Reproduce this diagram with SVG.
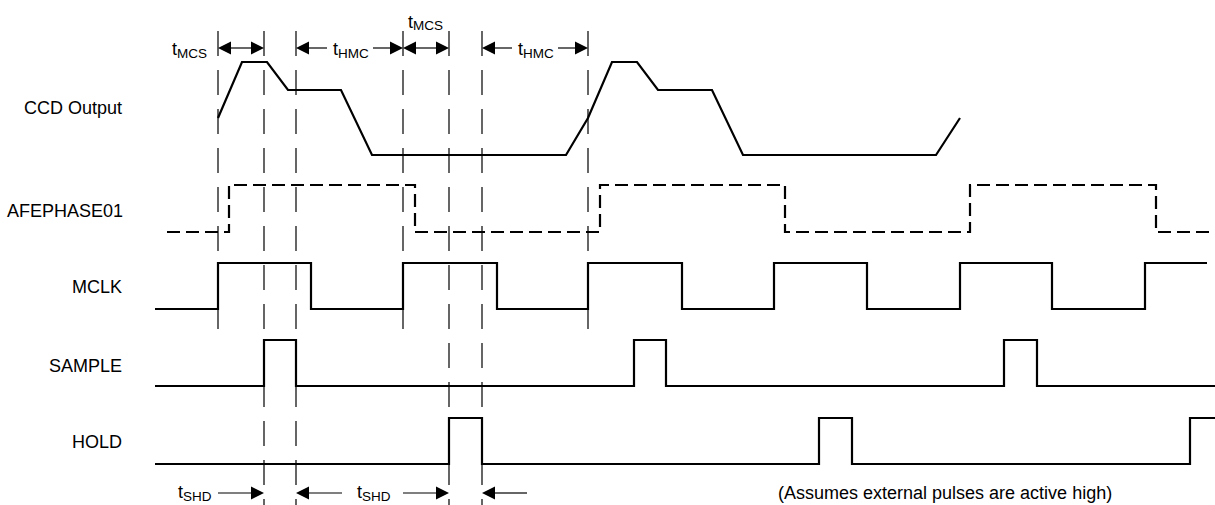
<svg xmlns="http://www.w3.org/2000/svg" width="1215" height="505" viewBox="0 0 1215 505">
<style>
text{font-family:"Liberation Sans",Arial,sans-serif;font-size:18px;fill:#000}
.lbl{text-anchor:end}
.sub{font-size:13.5px}
.sig{fill:none;stroke:#000;stroke-width:2.2;stroke-linejoin:miter}
.dsig{fill:none;stroke:#000;stroke-width:2.2;stroke-dasharray:13,6}
.guide{stroke:#000;stroke-width:1.2;stroke-dasharray:25,14}
.dim{stroke:#000;stroke-width:1.2}
.ah{fill:#000}
</style>
<rect width="1215" height="505" fill="#fff"/>
<g id="guides">
<line class="guide" x1="218" y1="31" x2="218" y2="330"/>
<line class="guide" x1="264" y1="31" x2="264" y2="505"/>
<line class="guide" x1="296" y1="31" x2="296" y2="505"/>
<line class="guide" x1="403" y1="31" x2="403" y2="330"/>
<line class="guide" x1="449" y1="31" x2="449" y2="505"/>
<line class="guide" x1="482" y1="31" x2="482" y2="505"/>
<line class="guide" x1="588" y1="31" x2="588" y2="330"/>
</g>
<g id="ccd-output">
<text class="lbl" x="122" y="114">CCD Output</text>
<path class="sig" d="M218,118 L242,62 L267,62 L288,90 L341,90 L372,155 L566,155 L588,118 L612,62 L637,62 L658,90 L712,90 L743,155 L936,155 L960,118"/>
</g>
<g id="afephase01">
<text class="lbl" x="123" y="217">AFEPHASE01</text>
<path class="dsig" d="M167,232 L229,232 L229,185 L415,185 L415,232 L600,232 L600,185 L785,185 L785,232 L970,232 L970,185 L1156,185 L1156,232 L1215,232"/>
</g>
<g id="mclk">
<text class="lbl" x="122" y="293">MCLK</text>
<path class="sig" d="M155,309 L218,309 L218,263 L311,263 L311,309 L403,309 L403,263 L497,263 L497,309 L588,309 L588,263 L682,263 L682,309 L774,309 L774,263 L867,263 L867,309 L960,309 L960,263 L1052,263 L1052,309 L1145,309 L1145,263 L1207,263"/>
</g>
<g id="sample">
<text class="lbl" x="122" y="372">SAMPLE</text>
<path class="sig" d="M155,386 L264,386 L264,340 L296,340 L296,386 L634,386 L634,340 L666,340 L666,386 L1004,386 L1004,340 L1037,340 L1037,386 L1215,386"/>
</g>
<g id="hold">
<text class="lbl" x="122" y="448">HOLD</text>
<path class="sig" d="M155,464 L449,464 L449,418 L482,418 L482,464 L819,464 L819,418 L852,418 L852,464 L1190,464 L1190,418 L1215,418"/>
</g>
<g id="connectors">
<line class="dim" x1="231" y1="48" x2="251" y2="48"/>
<polygon class="ah" points="218,48 231,41.5 231,54.5"/>
<polygon class="ah" points="264,48 251,41.5 251,54.5"/>
<polygon class="ah" points="296,48 309,41.5 309,54.5"/>
<line class="dim" x1="309" y1="48" x2="327" y2="48"/>
<line class="dim" x1="373" y1="48" x2="390" y2="48"/>
<polygon class="ah" points="403,48 390,41.5 390,54.5"/>
<polygon class="ah" points="403,48 416,41.5 416,54.5"/>
<line class="dim" x1="416" y1="48" x2="436" y2="48"/>
<polygon class="ah" points="449,48 436,41.5 436,54.5"/>
<polygon class="ah" points="482,48 495,41.5 495,54.5"/>
<line class="dim" x1="495" y1="48" x2="512" y2="48"/>
<line class="dim" x1="558" y1="48" x2="575" y2="48"/>
<polygon class="ah" points="588,48 575,41.5 575,54.5"/>
<line class="dim" x1="218" y1="493" x2="251" y2="493"/>
<polygon class="ah" points="264,493 251,486.5 251,499.5"/>
<polygon class="ah" points="296,493 309,486.5 309,499.5"/>
<line class="dim" x1="309" y1="493" x2="342" y2="493"/>
<line class="dim" x1="403" y1="493" x2="436" y2="493"/>
<polygon class="ah" points="449,493 436,486.5 436,499.5"/>
<polygon class="ah" points="482,493 495,486.5 495,499.5"/>
<line class="dim" x1="495" y1="493" x2="527" y2="493"/>
</g>
<g id="timing-labels">
<text x="172" y="55">t<tspan class="sub" dy="3">MCS</tspan></text>
<text x="333" y="55">t<tspan class="sub" dy="3">HMC</tspan></text>
<text x="408" y="28">t<tspan class="sub" dy="2">MCS</tspan></text>
<text x="518" y="55">t<tspan class="sub" dy="3">HMC</tspan></text>
<text x="178" y="498">t<tspan class="sub" dy="3">SHD</tspan></text>
<text x="357" y="498">t<tspan class="sub" dy="3">SHD</tspan></text>
</g>
<g id="note">
<text x="778" y="499">(Assumes external pulses are active high)</text>
</g>
</svg>
